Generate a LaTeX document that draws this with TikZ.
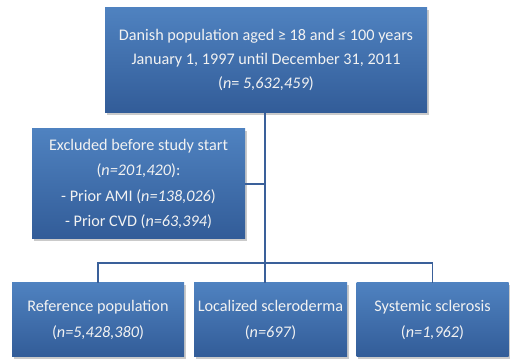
\documentclass[tikz,border=0pt]{standalone}
\usepackage{fontspec}
\setmainfont{Carlito}
\usetikzlibrary{shadows}
\definecolor{boxtop}{RGB}{79,130,192}
\definecolor{boxbot}{RGB}{50,92,152}
\definecolor{linecol}{RGB}{58,96,154}
\definecolor{txt}{RGB}{242,242,242}
\tikzset{
  box/.style={rectangle, top color=boxtop, bottom color=boxbot, draw=none,
    text=txt, align=center, inner sep=0pt,
    font=\fontsize{16.2}{24}\selectfont,
    drop shadow={shadow xshift=1.5pt, shadow yshift=-1.8pt, opacity=0.35, fill=black!60}},
  conn/.style={draw=linecol, line width=1.8pt}
}
\begin{document}
\begin{tikzpicture}[x=1pt,y=-1pt]
\useasboundingbox (0,0) rectangle (531,363);
\node[box, minimum width=322pt, minimum height=105pt] (top) at (266,60.5)
  {Danish population aged ≥ 18 and ≤ 100 years\\ January 1, 1997 until December 31, 2011\\(\textit{n}= \textit{5,632,459})};
\node[box, minimum width=213pt, minimum height=110pt, font=\fontsize{16.2}{25.3}\selectfont] (excl) at (138.5,184)
  {Excluded before study start\\(\textit{n=201,420}):\\- Prior AMI (\textit{n=138,026})\\- Prior CVD (\textit{n=63,394})};
\node[box, minimum width=172pt, minimum height=74pt, font=\fontsize{16.2}{26.5}\selectfont] (b1) at (98,320)
  {Reference population\\(\textit{n=5,428,380})};
\node[box, minimum width=153pt, minimum height=74pt, font=\fontsize{16.2}{26.5}\selectfont] (b2) at (270.5,320)
  {Localized scleroderma\\(\textit{n=697})};
\node[box, minimum width=152pt, minimum height=74pt, font=\fontsize{16.2}{26.5}\selectfont] (b3) at (432.5,320)
  {Systemic sclerosis\\(\textit{n=1,962})};
\coordinate (mid) at (265,263);
\draw[conn] (top.south -| mid) -- (b2.north -| mid);
\draw[conn] (excl.east) -- (excl.east -| mid);
\draw[conn] (b1.north) |- (mid) -| (b3.north);
\end{tikzpicture}
\end{document}
